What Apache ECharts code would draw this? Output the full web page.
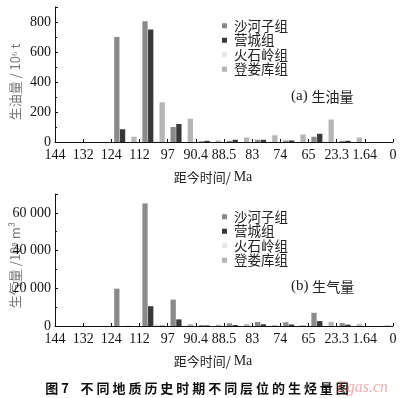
<!DOCTYPE html>
<html><head><meta charset="utf-8">
<script src="https://cdn.jsdelivr.net/npm/echarts@6/dist/echarts.min.js"></script>
<style>html,body{margin:0;padding:0;background:#fff}#c{width:400px;height:398px}</style>
</head><body><div id="c"></div>
<script>
var tickLabels = ['144','132','124','112','97','90.4','88.5','83','74','65','23.3','1.64','0'];
var seriesNames = ['沙河子组','营城组','火石岭组','登娄库组'];
var oilShahezi = [0,0,700,805,100,5,8,15,10,35,8,0];
var oilYingcheng = [0,0,85,750,120,8,15,15,10,55,8,0];
var oilHuoshiling = [0,0,0,4,0,0,0,0,0,0,0,0];
var oilDenglouku = [0,0,35,265,155,10,30,45,50,150,30,0];
var gasShahezi = [0,0,19800,65000,14000,500,1400,2100,2000,7000,1500,0];
var gasYingcheng = [0,0,0,10500,3500,300,500,900,800,2600,700,0];
var gasHuoshiling = [0,0,500,1000,300,0,0,0,0,0,0,0];
var gasDenglouku = [0,0,0,500,1000,700,1000,500,500,2200,1000,300];
var colors = ['#8a8a8a','#383838','#e6e6e6','#b5b5b5'];

var serif = 'Liberation Serif';
var cjk = 'Noto Sans CJK SC';

function toPts(arr){ return arr.map(function(v,i){ return [i+0.5, v]; }); }
function fmtThousand(v){ var s=String(v); return s.length>3 ? s.slice(0,s.length-3)+' '+s.slice(s.length-3) : s; }

var chart = echarts.init(document.getElementById('c'), null, {renderer:'canvas'});

function xAxisDef(gi){
  return {
    type:'value', gridIndex:gi, min:0, max:12, interval:1,
    axisLine:{show:true,lineStyle:{color:'#111',width:1}},
    axisTick:{show:true,inside:true,length:3,lineStyle:{color:'#111'}},
    splitLine:{show:false},
    axisLabel:{color:'#111',fontFamily:serif,fontSize:14,margin:6,
      formatter:function(v){ return tickLabels[Math.round(v)]; }}
  };
}
function yAxisDef(gi,max,interval,fmt){
  return {
    type:'value', gridIndex:gi, min:0, max:max, interval:interval,
    axisLine:{show:true,lineStyle:{color:'#111',width:1}},
    axisTick:{show:true,inside:true,length:3,lineStyle:{color:'#111'}},
    minorTick:{show:true,splitNumber:2,length:2,lineStyle:{color:'#111'}},
    splitLine:{show:false},
    axisLabel:{color:'#111',fontFamily:serif,fontSize:14,margin:4,showMaxLabel:false,formatter:fmt}
  };
}

var sets = [[oilShahezi,oilYingcheng,oilHuoshiling,oilDenglouku],[gasShahezi,gasYingcheng,gasHuoshiling,gasDenglouku]];
var series = [];
sets.forEach(function(group,gi){
  group.forEach(function(arr,k){
    series.push({
      type:'bar', name:seriesNames[k], xAxisIndex:gi, yAxisIndex:gi,
      data:toPts(arr), barWidth:5.3, barGap:'8%',
      itemStyle:{color:colors[k]}, animation:false
    });
  });
});

function legendDef(top){
  return {
    orient:'vertical', left:217, top:top, itemWidth:5, itemHeight:5, itemGap:1,
    icon:'rect', data:seriesNames, selectedMode:false,
    textStyle:{fontFamily:cjk,fontSize:13.5,color:'#222',padding:[0,0,0,2],lineHeight:13.5}
  };
}

var option = {
  backgroundColor:'#fff',
  animation:false,
  grid:[
    {left:55,right:7,top:7,height:135},
    {left:55,right:7,top:194,height:132}
  ],
  xAxis:[xAxisDef(0),xAxisDef(1)],
  yAxis:[yAxisDef(0,900,200,function(v){return String(v);}),
         yAxisDef(1,70000,20000,function(v){return fmtThousand(v);})],
  legend:[legendDef(14),legendDef(205)],
  series:series,
  graphic:[
    {type:'text',left:291,top:89,style:{rich:{a:{fontFamily:serif,fontSize:15,fill:'#222'},b:{fontFamily:cjk,fontSize:14,fill:'#222'}},text:'{a|(a) }{b|生油量}'}},
    {type:'text',left:291,top:279,style:{rich:{a:{fontFamily:serif,fontSize:15,fill:'#222'},b:{fontFamily:cjk,fontSize:14,fill:'#222'}},text:'{a|(b) }{b|生气量}'}},
    {type:'text',x:213,y:177,style:{rich:{a:{fontFamily:cjk,fontSize:13,fill:'#222'},b:{fontFamily:serif,fontSize:14,fill:'#222'}},text:'{a|距今时间/ }{b|Ma}',textAlign:'center',textVerticalAlign:'middle'}},
    {type:'text',x:213,y:361,style:{rich:{a:{fontFamily:cjk,fontSize:13,fill:'#222'},b:{fontFamily:serif,fontSize:14,fill:'#222'}},text:'{a|距今时间/ }{b|Ma}',textAlign:'center',textVerticalAlign:'middle'}},
    {type:'text',x:15,y:82,rotation:Math.PI/2,style:{text:'生油量 / 10⁶ t',fontFamily:cjk,fontSize:13,fill:'#777',textAlign:'center',textVerticalAlign:'middle'}},
    {type:'text',x:15,y:265,rotation:Math.PI/2,style:{text:'生气量 /10⁸ m³',fontFamily:cjk,fontSize:13,fill:'#777',textAlign:'center',textVerticalAlign:'middle'}},
    {type:'text',x:197,y:388,style:{text:'图 7    不 同 地 质 历 史 时 期 不 同 层 位 的 生 烃 量 图',fontFamily:cjk,fontSize:13,fontWeight:'bold',fill:'#111',textAlign:'center',textVerticalAlign:'middle'}},
    {type:'text',x:337,y:388,style:{text:'Egas.cn',fontFamily:serif,fontSize:16,fontStyle:'italic',fill:'rgba(225,90,90,0.5)',textVerticalAlign:'middle'}}
  ]
};
chart.setOption(option);
</script></body></html>
